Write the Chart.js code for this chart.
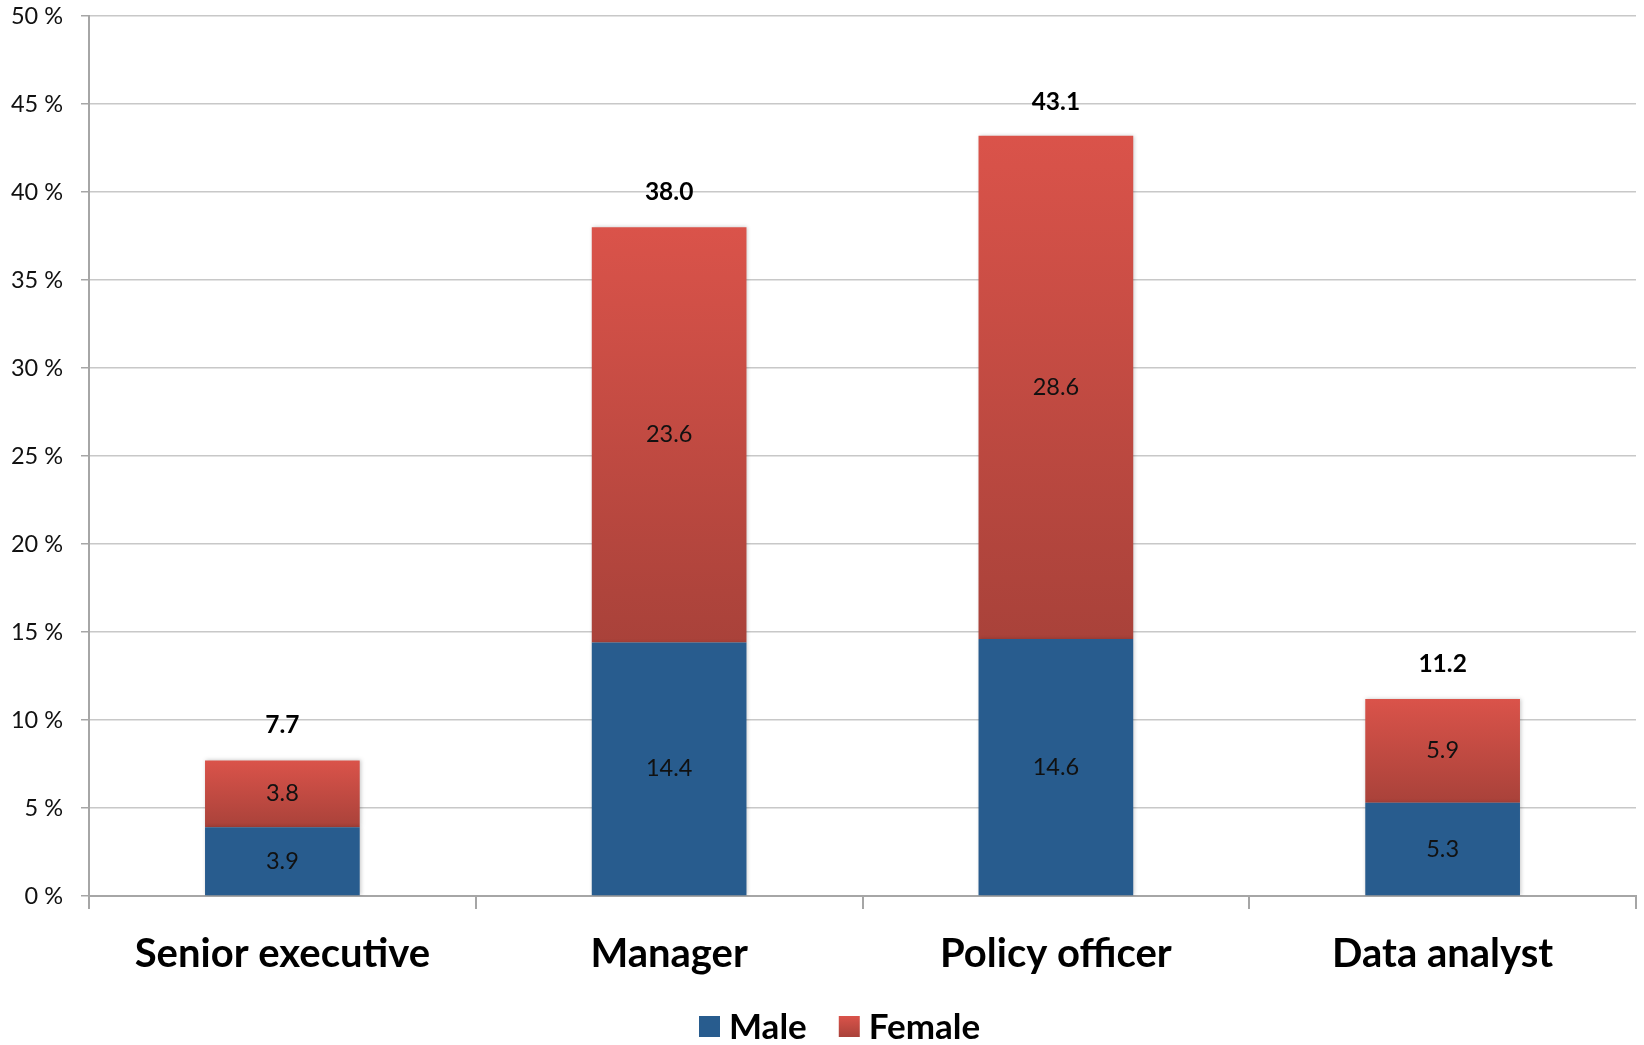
<!DOCTYPE html>
<html>
<head>
<meta charset="utf-8">
<title>Staff by role and gender</title>
<script src="https://cdn.jsdelivr.net/npm/chart.js@4"></script>
<style>
  html, body { margin: 0; padding: 0; background: #fff; }
  #wrap { width: 1644px; height: 1045px; }
</style>
</head>
<body>
<div id="wrap"><canvas id="role-chart"></canvas></div>
<script>
'use strict';

// *************** DATA
let roles = ['Senior executive', 'Manager', 'Policy officer', 'Data analyst'];
let maleShare = [3.9, 14.4, 14.6, 5.3];
let femaleShare = [3.8, 23.6, 28.6, 5.9];
let totalShare = [7.7, 38.0, 43.1, 11.2];
let yTicks = [0, 5, 10, 15, 20, 25, 30, 35, 40, 45, 50];

// *************** STYLE
let maleColor = '#285c8e';
let femaleTop = '#da534a';
let femaleBottom = '#a9423a';
let fontName = 'Lato, "Open Sans", sans-serif';

let ctx = document.getElementById('role-chart');

function redGradient(c, top, bottom) {
  let g = c.createLinearGradient(0, top, 0, bottom);
  g.addColorStop(0, femaleTop);
  g.addColorStop(1, femaleBottom);
  return g;
}

// gradient running top to bottom over each female segment
function femaleFill(context) {
  let chart = context.chart;
  if (!chart.chartArea || context.dataIndex === undefined) {
    return femaleTop;
  }
  let i = context.dataIndex;
  let yScale = chart.scales.y;
  let top = yScale.getPixelForValue(maleShare[i] + femaleShare[i]);
  let bottom = yScale.getPixelForValue(maleShare[i]);
  return redGradient(chart.ctx, top, bottom);
}

// soft shadow behind the bars
let barShadow = {
  id: 'barShadow',
  beforeDatasetsDraw(chart) {
    let c = chart.ctx;
    c.save();
    c.shadowColor = 'rgba(0, 0, 0, 0.22)';
    c.shadowBlur = 4;
    c.shadowOffsetX = 1;
    c.shadowOffsetY = 0;
  },
  afterDatasetsDraw(chart) {
    chart.ctx.restore();
  }
};

// segment values inside bars, totals above
let barLabels = {
  id: 'barLabels',
  afterDatasetsDraw(chart) {
    let c = chart.ctx;
    c.save();
    c.textAlign = 'center';
    c.textBaseline = 'middle';
    c.fillStyle = '#111';
    c.font = '23.5px ' + fontName;
    chart.data.datasets.forEach((ds, d) => {
      let meta = chart.getDatasetMeta(d);
      meta.data.forEach((bar, i) => {
        c.fillText(ds.data[i].toFixed(1), bar.x, (bar.y + bar.base) / 2);
      });
    });
    let topMeta = chart.getDatasetMeta(chart.data.datasets.length - 1);
    c.font = 'bold 24.5px ' + fontName;
    c.fillStyle = '#000';
    topMeta.data.forEach((bar, i) => {
      let y = chart.scales.y.getPixelForValue(totalShare[i]);
      c.fillText(totalShare[i].toFixed(1), bar.x, y - 35);
    });
    c.restore();
  }
};

// legend row under the axis labels
let bottomLegend = {
  id: 'bottomLegend',
  afterDraw(chart) {
    let c = chart.ctx;
    let box = 21;
    let boxY = 1016;
    let x = 699;
    c.save();
    c.font = 'bold 35px ' + fontName;
    c.textBaseline = 'middle';
    c.textAlign = 'left';
    chart.data.datasets.forEach((ds, i) => {
      c.fillStyle = i === 0 ? maleColor : redGradient(c, boxY, boxY + box);
      c.fillRect(x, boxY, box, box);
      x += box + 9;
      c.fillStyle = '#000';
      c.fillText(ds.label, x, boxY + box / 2 + 1);
      x += c.measureText(ds.label).width + 32;
    });
    c.restore();
  }
};

let chartObj = {
  type: 'bar',
  data: {
    labels: roles,
    datasets: [{
      label: 'Male',
      data: maleShare,
      backgroundColor: maleColor,
      borderWidth: 0,
      barPercentage: 0.4,
      categoryPercentage: 1
    },
    {
      label: 'Female',
      data: femaleShare,
      backgroundColor: femaleFill,
      borderWidth: 0,
      barPercentage: 0.4,
      categoryPercentage: 1
    }]
  },
  options: {
    responsive: true,
    maintainAspectRatio: false,
    animation: false,
    layout: {
      padding: { left: 0, right: 8, top: 16, bottom: 46 }
    },
    plugins: {
      tooltip: { enabled: false },
      legend: { display: false }
    },
    scales: {
      x: {
        stacked: true,
        grid: {
          offset: true,
          drawOnChartArea: false,
          drawTicks: true,
          tickLength: 13,
          color: '#a6a6a6',
          lineWidth: 2
        },
        border: { color: '#a6a6a6', width: 2 },
        ticks: {
          color: '#000',
          padding: 21,
          font: { family: fontName, size: 40, weight: 'bold' }
        },
        afterFit(scale) {
          scale.height = 103;
        }
      },
      y: {
        stacked: true,
        min: 0,
        max: 50,
        afterBuildTicks(scale) {
          scale.ticks = yTicks.map(v => ({ value: v }));
        },
        grid: {
          color: '#c8c8c8',
          lineWidth: 1.5,
          tickLength: 8,
          tickColor: '#a6a6a6'
        },
        border: { color: '#a6a6a6', width: 2 },
        ticks: {
          color: '#111',
          padding: 18,
          font: { family: fontName, size: 23.5 },
          callback: value => value + ' %'
        },
        afterFit(scale) {
          scale.width = 89;
          scale.paddingTop = 0;
          scale.paddingBottom = 0;
        }
      }
    }
  },
  plugins: [barShadow, barLabels, bottomLegend]
};

new Chart(ctx, chartObj); // eslint-disable-line
</script>
</body>
</html>
